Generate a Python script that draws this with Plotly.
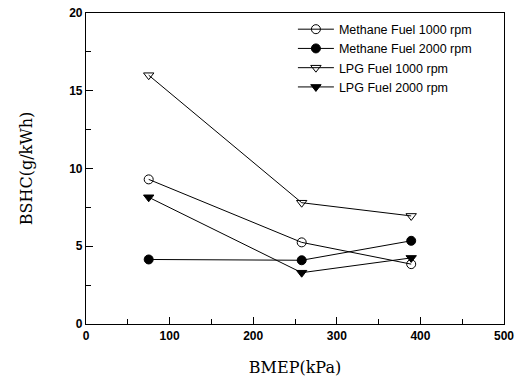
import plotly.graph_objects as go

# BMEP load points (kPa)
bmep = [75, 258, 389]

# BSHC (g/kWh) for each fuel / speed combination
methane_1000 = [9.3, 5.25, 3.85]
methane_2000 = [4.15, 4.1, 5.35]
lpg_1000 = [16.0, 7.8, 6.95]
lpg_2000 = [8.15, 3.3, 4.25]

series = [
    ("Methane Fuel 1000 rpm", methane_1000, "circle-open"),
    ("Methane Fuel 2000 rpm", methane_2000, "circle"),
    ("LPG Fuel 1000 rpm", lpg_1000, "triangle-down-open"),
    ("LPG Fuel 2000 rpm", lpg_2000, "triangle-down"),
]

fig = go.Figure()
for name, vals, sym in series:
    fig.add_trace(go.Scatter(
        x=bmep, y=vals, name=name, mode="lines+markers",
        line=dict(color="black", width=1),
        marker=dict(symbol=sym, size=9, color="black",
                    line=dict(color="black", width=1)),
    ))

axis_common = dict(
    showline=True, linecolor="black", linewidth=1.2, mirror=True,
    ticks="inside", ticklen=7, tickcolor="black", showgrid=False,
    zeroline=False, automargin=False,
    tickfont=dict(family="Liberation Sans", size=12, color="black", weight="bold"),
    title_font=dict(family="DejaVu Serif", size=16, color="black"),
)

fig.update_xaxes(range=[0, 500], dtick=100,
                 minor=dict(ticks="inside", dtick=50, ticklen=5, tickcolor="black"),
                 title_text="BMEP(kPa)", title_standoff=20, **axis_common)
fig.update_yaxes(range=[0, 20], dtick=5,
                 minor=dict(ticks="inside", dtick=2.5, ticklen=5, tickcolor="black"),
                 title_text="BSHC(g/kWh)", title_standoff=32, **axis_common)

fig.update_layout(
    width=515, height=381,
    margin=dict(l=86, r=11, t=13, b=57),
    paper_bgcolor="white", plot_bgcolor="white",
    legend=dict(x=0.495, y=0.995, xanchor="left", yanchor="top",
                bgcolor="rgba(0,0,0,0)", tracegroupgap=0, itemwidth=36,
                font=dict(family="Liberation Sans", size=12.5, color="black")),
)

fig.write_html("out.html")
